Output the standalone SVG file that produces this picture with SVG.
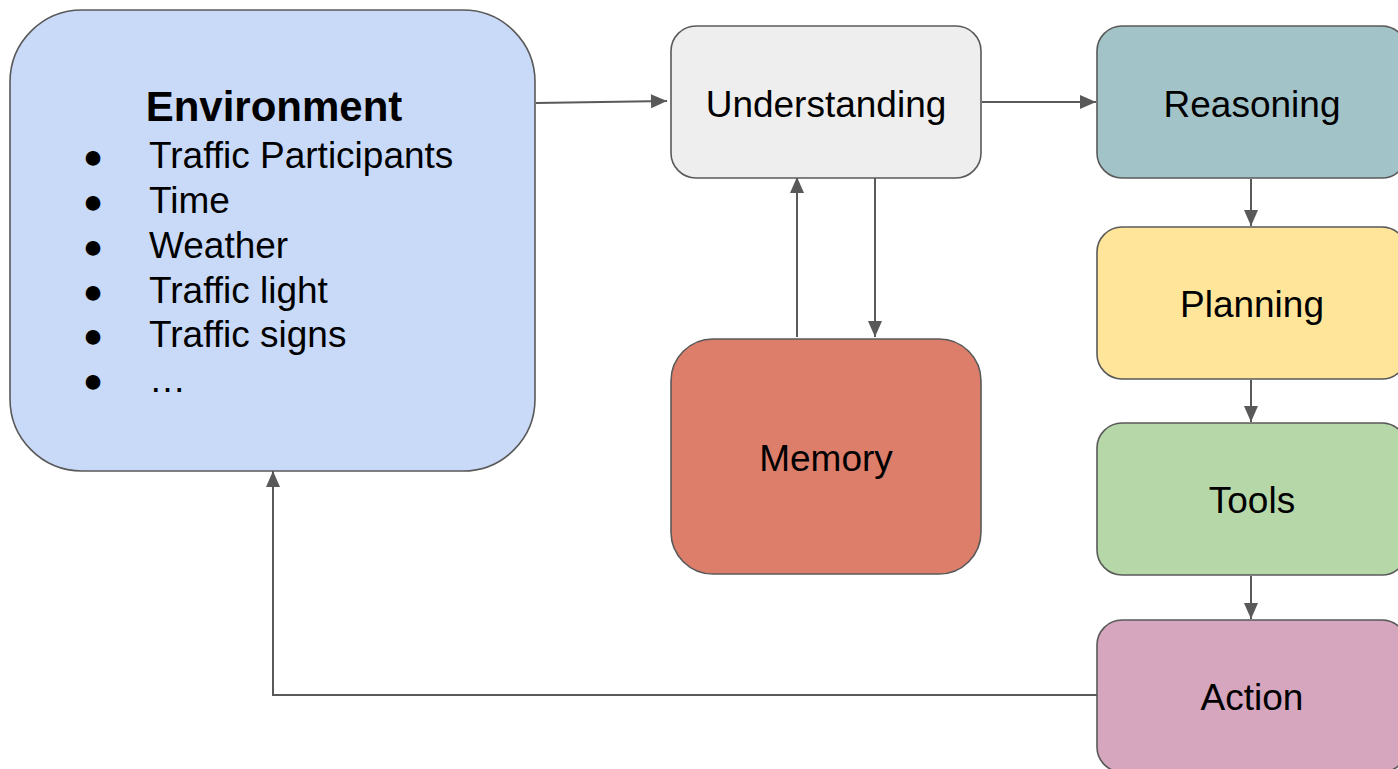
<svg xmlns="http://www.w3.org/2000/svg" width="1398" height="769" viewBox="0 0 1398 769">
<defs>
<marker id="ah" markerUnits="userSpaceOnUse" markerWidth="18" markerHeight="18" viewBox="0 0 18 18" refX="17" refY="9" orient="auto">
<path d="M1,2 L17,9 L1,16 Z" fill="#595959"/>
</marker>
<style>
.box{stroke:#595959;stroke-width:1.6}
.lbl{font-family:"Liberation Sans",Arial,sans-serif;font-size:37px;fill:#000;text-anchor:middle}
.item{font-family:"Liberation Sans",Arial,sans-serif;font-size:37px;fill:#000}
.bul{font-family:"Liberation Sans","DejaVu Sans",sans-serif;font-size:34px;fill:#000;text-anchor:middle}
.conn{fill:none;stroke:#595959;stroke-width:2}
</style>
</defs>
<rect width="1398" height="769" fill="#ffffff"/>
<g id="connectors">
<path class="conn" d="M536,103 L667,101" marker-end="url(#ah)"/>
<path class="conn" d="M982,102 L1096,102" marker-end="url(#ah)"/>
<path class="conn" d="M797,337 L797,177" marker-end="url(#ah)"/>
<path class="conn" d="M875,178 L875,337" marker-end="url(#ah)"/>
<path class="conn" d="M1251,179 L1251,226" marker-end="url(#ah)"/>
<path class="conn" d="M1251,380 L1251,422" marker-end="url(#ah)"/>
<path class="conn" d="M1251,576 L1251,619" marker-end="url(#ah)"/>
<path class="conn" d="M1097,695 L273,695 L273,471" marker-end="url(#ah)"/>
</g>
<g id="environment">
<rect class="box" x="10" y="10" width="525" height="461" rx="72" ry="72" fill="#c9daf8"/>
<text x="274" y="121" font-family="Liberation Sans,Arial,sans-serif" font-size="42" font-weight="bold" text-anchor="middle">Environment</text>
<text class="bul" x="93" y="168">●</text>
<text class="bul" x="93" y="213">●</text>
<text class="bul" x="93" y="258">●</text>
<text class="bul" x="93" y="303">●</text>
<text class="bul" x="93" y="347">●</text>
<text class="bul" x="93" y="392">●</text>
<text class="item" x="149" y="168">Traffic Participants</text>
<text class="item" x="149" y="213">Time</text>
<text class="item" x="149" y="258">Weather</text>
<text class="item" x="149" y="303">Traffic light</text>
<text class="item" x="149" y="347">Traffic signs</text>
<text class="item" x="149" y="392">…</text>
</g>
<g id="understanding">
<rect class="box" x="671" y="26" width="310" height="152" rx="25" ry="25" fill="#eeeeee"/>
<text class="lbl" x="826" y="117">Understanding</text>
</g>
<g id="memory">
<rect class="box" x="671" y="339" width="310" height="235" rx="42" ry="42" fill="#dd7e6b"/>
<text class="lbl" x="826" y="471">Memory</text>
</g>
<g id="reasoning">
<rect class="box" x="1097" y="26" width="310" height="152" rx="25" ry="25" fill="#a2c4c9"/>
<text class="lbl" x="1252" y="117">Reasoning</text>
</g>
<g id="planning">
<rect class="box" x="1097" y="227" width="310" height="152" rx="25" ry="25" fill="#ffe599"/>
<text class="lbl" x="1252" y="317">Planning</text>
</g>
<g id="tools">
<rect class="box" x="1097" y="423" width="310" height="152" rx="25" ry="25" fill="#b6d7a8"/>
<text class="lbl" x="1252" y="513">Tools</text>
</g>
<g id="action">
<rect class="box" x="1097" y="620" width="310" height="152" rx="25" ry="25" fill="#d5a6bd"/>
<text class="lbl" x="1252" y="710">Action</text>
</g>
</svg>
